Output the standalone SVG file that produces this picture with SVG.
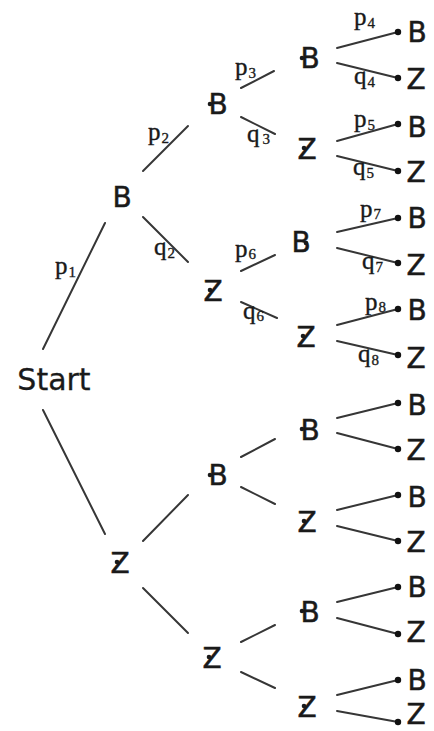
<svg xmlns="http://www.w3.org/2000/svg" width="434" height="731" viewBox="0 0 434 731">
<style>
  .bg { fill: #ffffff; }
  .n { font-family: "DejaVu Sans", "Liberation Sans", sans-serif; font-size: 28px; fill: #1a1a1a; stroke: #1a1a1a; stroke-width: 0.5; text-anchor: middle; }
  .start { font-size: 30px; stroke-width: 0.3; }
  .lbl { font-family: "Liberation Serif", "DejaVu Serif", serif; font-size: 25px; fill: #1a1a1a; stroke: #1a1a1a; stroke-width: 0.35; }
  .sub { font-size: 15px; }
  .e line { stroke: #363636; stroke-width: 2; stroke-linecap: round; }
  .dot { fill: #111111; }
  .mark { fill: #1a1a1a; }
</style>
<rect class="bg" x="0" y="0" width="434" height="731"/>

<g id="connectors" class="e">
  <line x1="43" y1="349" x2="105" y2="223"/>
  <line x1="43" y1="410" x2="105" y2="534"/>
  <line x1="143" y1="171" x2="188" y2="126"/>
  <line x1="143" y1="217" x2="188" y2="262"/>
  <line x1="143" y1="541" x2="188" y2="495"/>
  <line x1="143" y1="588" x2="188" y2="633"/>
  <line x1="241" y1="88" x2="274" y2="71"/>
  <line x1="241" y1="117" x2="275" y2="134"/>
  <line x1="241" y1="271" x2="275" y2="255"/>
  <line x1="241" y1="302" x2="277" y2="318"/>
  <line x1="241" y1="457" x2="275" y2="439"/>
  <line x1="241" y1="487" x2="275" y2="504"/>
  <line x1="241" y1="642" x2="275" y2="625"/>
  <line x1="241" y1="672" x2="275" y2="688"/>
  <line x1="337" y1="48" x2="398" y2="32"/>
  <line x1="337" y1="63" x2="398" y2="78"/>
  <line x1="337" y1="141" x2="398" y2="124"/>
  <line x1="337" y1="156" x2="398" y2="171"/>
  <line x1="337" y1="232" x2="398" y2="218"/>
  <line x1="337" y1="248" x2="398" y2="263"/>
  <line x1="337" y1="325" x2="398" y2="309"/>
  <line x1="337" y1="341" x2="398" y2="355"/>
  <line x1="337" y1="418" x2="398" y2="403"/>
  <line x1="337" y1="433" x2="398" y2="449"/>
  <line x1="337" y1="510" x2="398" y2="495"/>
  <line x1="337" y1="526" x2="398" y2="541"/>
  <line x1="337" y1="602" x2="398" y2="587"/>
  <line x1="337" y1="618" x2="398" y2="634"/>
  <line x1="337" y1="695" x2="398" y2="680"/>
  <line x1="337" y1="711" x2="398" y2="722"/>
</g>

<g id="labels">
  <text class="lbl" x="55" y="274">p<tspan class="sub" dx="1" dy="3">1</tspan></text>
  <text class="lbl" x="148" y="140">p<tspan class="sub" dx="1" dy="3">2</tspan></text>
  <text class="lbl" x="154" y="255">q<tspan class="sub" dx="1" dy="3">2</tspan></text>
  <text class="lbl" x="235" y="75">p<tspan class="sub" dx="1" dy="3">3</tspan></text>
  <text class="lbl" x="247" y="142">q<tspan class="sub" dx="3" dy="2">3</tspan></text>
  <text class="lbl" x="354" y="25">p<tspan class="sub" dx="1" dy="3">4</tspan></text>
  <text class="lbl" x="354" y="84">q<tspan class="sub" dx="1" dy="3">4</tspan></text>
  <text class="lbl" x="354" y="127">p<tspan class="sub" dx="1" dy="3">5</tspan></text>
  <text class="lbl" x="353" y="175">q<tspan class="sub" dx="1" dy="3">5</tspan></text>
  <text class="lbl" x="235" y="257">p<tspan class="sub" dx="1" dy="2">6</tspan></text>
  <text class="lbl" x="243" y="319">q<tspan class="sub" dx="1" dy="2">6</tspan></text>
  <text class="lbl" x="360" y="217">p<tspan class="sub" dx="1" dy="2">7</tspan></text>
  <text class="lbl" x="362" y="269">q<tspan class="sub" dx="1" dy="3">7</tspan></text>
  <text class="lbl" x="365" y="310">p<tspan class="sub" dx="1" dy="2">8</tspan></text>
  <text class="lbl" x="358" y="362">q<tspan class="sub" dx="1" dy="3">8</tspan></text>
</g>

<g id="start"><text class="n start" x="54" y="390">Start</text></g>

<g id="b1"><text class="n" x="122" y="207">B</text></g>
<g id="z1"><circle class="mark" cx="117" cy="562" r="2.3"/><text class="n" x="120" y="573">Z</text></g>

<g id="b1b"><circle class="mark" cx="210" cy="104" r="2.3"/><text class="n" x="218" y="114">B</text></g>
<g id="b1z"><circle class="mark" cx="210" cy="290" r="2.3"/><text class="n" x="213" y="301">Z</text></g>
<g id="z1b"><circle class="mark" cx="210" cy="475" r="2.3"/><text class="n" x="218" y="485">B</text></g>
<g id="z1z"><circle class="mark" cx="209" cy="657" r="2.3"/><text class="n" x="212" y="668">Z</text></g>

<g id="bbb"><circle class="mark" cx="302" cy="58" r="2.3"/><text class="n" x="310" y="68">B</text></g>
<g id="bbz"><circle class="mark" cx="304" cy="148" r="2.3"/><text class="n" x="307" y="159">Z</text></g>
<g id="bzb"><circle class="mark" cx="306" cy="243" r="2.3"/><text class="n" x="301" y="252">B</text></g>
<g id="bzz"><circle class="mark" cx="303" cy="336" r="2.3"/><text class="n" x="306" y="347">Z</text></g>
<g id="zbb"><circle class="mark" cx="302" cy="429" r="2.3"/><text class="n" x="310" y="440">B</text></g>
<g id="zbz"><circle class="mark" cx="304" cy="521" r="2.3"/><text class="n" x="307" y="532">Z</text></g>
<g id="zzb"><circle class="mark" cx="302" cy="611" r="2.3"/><text class="n" x="310" y="622">B</text></g>
<g id="zzz"><circle class="mark" cx="304" cy="706" r="2.3"/><text class="n" x="307" y="717">Z</text></g>

<g id="leaf1"><circle class="dot" cx="398" cy="32" r="3.2"/><text class="n" x="417" y="42">B</text></g>
<g id="leaf2"><circle class="dot" cx="398" cy="78" r="3.2"/><text class="n" x="416" y="89">Z</text></g>
<g id="leaf3"><circle class="dot" cx="398" cy="124" r="3.2"/><text class="n" x="417" y="137">B</text></g>
<g id="leaf4"><circle class="dot" cx="398" cy="171" r="3.2"/><text class="n" x="416" y="182">Z</text></g>
<g id="leaf5"><circle class="dot" cx="398" cy="218" r="3.2"/><text class="n" x="417" y="228">B</text></g>
<g id="leaf6"><circle class="dot" cx="398" cy="263" r="3.2"/><text class="n" x="416" y="275">Z</text></g>
<g id="leaf7"><circle class="dot" cx="398" cy="309" r="3.2"/><text class="n" x="417" y="320">B</text></g>
<g id="leaf8"><circle class="dot" cx="398" cy="355" r="3.2"/><text class="n" x="416" y="368">Z</text></g>
<g id="leaf9"><circle class="dot" cx="398" cy="403" r="3.2"/><text class="n" x="417" y="415">B</text></g>
<g id="leaf10"><circle class="dot" cx="398" cy="449" r="3.2"/><text class="n" x="416" y="460">Z</text></g>
<g id="leaf11"><circle class="dot" cx="398" cy="495" r="3.2"/><text class="n" x="417" y="507">B</text></g>
<g id="leaf12"><circle class="dot" cx="398" cy="541" r="3.2"/><text class="n" x="416" y="552">Z</text></g>
<g id="leaf13"><circle class="dot" cx="398" cy="587" r="3.2"/><text class="n" x="417" y="597">B</text></g>
<g id="leaf14"><circle class="dot" cx="398" cy="634" r="3.2"/><text class="n" x="416" y="642">Z</text></g>
<g id="leaf15"><circle class="dot" cx="398" cy="680" r="3.2"/><text class="n" x="417" y="690">B</text></g>
<g id="leaf16"><circle class="dot" cx="398" cy="722" r="3.2"/><text class="n" x="416" y="724">Z</text></g>
</svg>
